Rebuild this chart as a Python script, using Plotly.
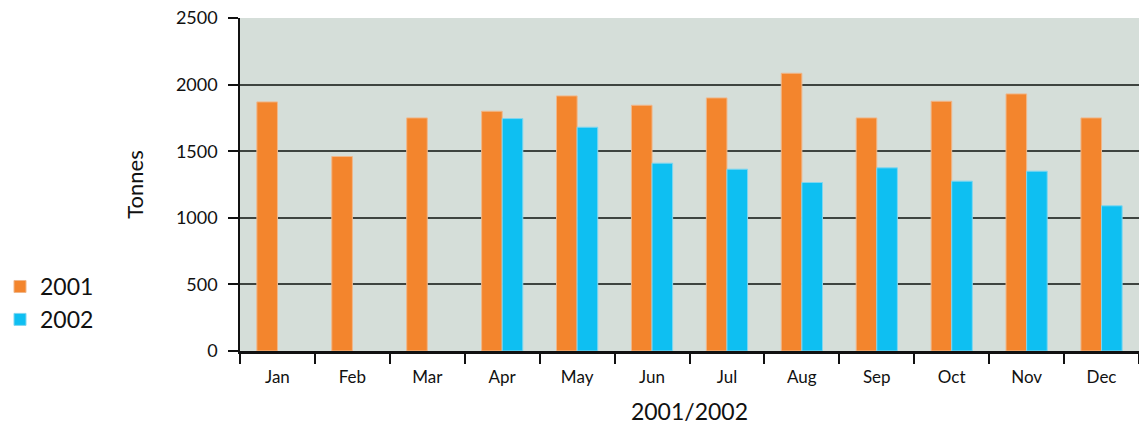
import plotly.graph_objects as go

months = ["Jan", "Feb", "Mar", "Apr", "May", "Jun", "Jul", "Aug", "Sep", "Oct", "Nov", "Dec"]
tonnes_2001 = [1870, 1460, 1750, 1800, 1915, 1845, 1900, 2085, 1750, 1875, 1930, 1750]
tonnes_2002 = [None, None, None, 1745, 1680, 1410, 1365, 1265, 1375, 1275, 1350, 1090]
y_ticks = [0, 500, 1000, 1500, 2000, 2500]

FONT = "Lato"
INK = "#111111"
fig = go.Figure()
fig.add_trace(go.Bar(name="2001", x=months, y=tonnes_2001,
                     marker=dict(color="#F3852D", line=dict(color="#F0B78A", width=1))))
fig.add_trace(go.Bar(name="2002", x=months, y=tonnes_2002,
                     marker=dict(color="#0EBFF2", line=dict(color="#7FD6F0", width=1))))

fig.update_layout(
    width=1139, height=428,
    margin=dict(l=237, r=0, t=18, b=77),
    paper_bgcolor="white", plot_bgcolor="#D5DED9",
    barmode="group", bargap=0.45, bargroupgap=0,
    font=dict(family=FONT, color=INK),
    showlegend=True,
    legend=dict(x=-0.267, xanchor="left", y=0.144, yanchor="middle",
                font=dict(size=23, family=FONT, color=INK),
                bgcolor="rgba(0,0,0,0)", tracegroupgap=0, itemwidth=30),
    xaxis=dict(
        type="category", tickson="boundaries", ticks="outside", ticklen=10,
        tickcolor=INK, tickwidth=1.5, ticklabelstandoff=9,
        showline=True, linecolor=INK, linewidth=2.5,
        tickfont=dict(size=17, family=FONT, color=INK),
        title=dict(text="2001/2002", font=dict(size=23, family=FONT, color=INK), standoff=18),
        showgrid=False, range=[-0.5, 11.5],
    ),
    yaxis=dict(
        range=[0, 2500], tickvals=y_ticks, ticks="outside", ticklen=10,
        tickcolor=INK, tickwidth=1.5, ticklabelstandoff=7,
        showline=True, linecolor=INK, linewidth=1.5,
        showgrid=True, gridcolor="#3E4440", gridwidth=1.5,
        tickfont=dict(size=18, family=FONT, color=INK),
        title=dict(text="Tonnes", font=dict(size=22, family=FONT, color=INK), standoff=26),
        zeroline=False,
    ),
)

fig.write_html("out.html", config={"displayModeBar": False},
               post_script="document.body.style.margin='0';")
